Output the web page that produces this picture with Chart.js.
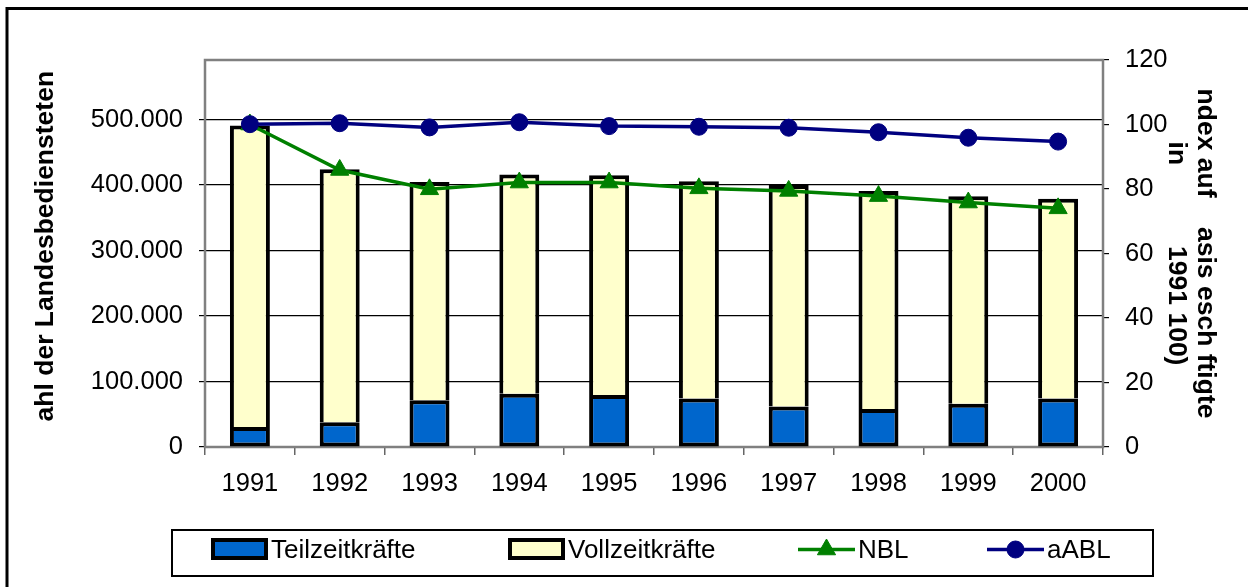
<!DOCTYPE html>
<html>
<head>
<meta charset="utf-8">
<script src="https://cdn.jsdelivr.net/npm/chart.js@4.4.1/dist/chart.umd.min.js"></script>
<style>
  html, body { margin: 0; padding: 0; background: #fff; }
  canvas { display: block; }
</style>
</head>
<body>
<canvas id="c" width="1248" height="587"></canvas>
<script>
// ---- data ----
const years = ['1991','1992','1993','1994','1995','1996','1997','1998','1999','2000'];
const teilzeit = [30500, 37700, 71300, 81500, 79500, 74000, 62000, 58000, 66000, 74000];
const vollzeit = [460500, 386300, 333500, 334500, 335500, 332000, 338000, 333000, 317000, 305000];
const nbl  = [100, 85.9, 79.9, 82.0, 82.0, 80.2, 79.4, 77.8, 75.8, 74.0];
const aabl = [100.1, 100.4, 99.1, 100.7, 99.5, 99.3, 99.0, 97.6, 95.9, 94.7];
const leftTicks = [0, 100000, 200000, 300000, 400000, 500000];
const rightTicks = [0, 20, 40, 60, 80, 100, 120];
const seriesNames = ['Teilzeitkräfte', 'Vollzeitkräfte', 'NBL', 'aABL'];
const leftTitle = '  ahl der Landesbediensteten';
const rightTitle = ['ndex auf    asis esch ftigte', 'in           1991 100)'];

const FAMILY = "'Liberation Sans', Arial, sans-serif";
const tickFont = { family: FAMILY, size: 25.5 };
const titleFont = { family: FAMILY, size: 26.5, weight: 'bold', lineHeight: 1.1 };

function de(v) {
  return String(Math.round(v)).replace(/\B(?=(\d{3})+(?!\d))/g, '.');
}

const framePlugin = {
  id: 'frame',
  beforeDraw(chart) {
    const ctx = chart.ctx;
    ctx.save();
    ctx.fillStyle = '#fff';
    ctx.fillRect(0, 0, chart.width, chart.height);
    ctx.strokeStyle = '#000';
    ctx.lineWidth = 3;
    ctx.strokeRect(7, 8.5, 1400, 700);
    ctx.restore();
  },
  beforeDatasetsDraw(chart) {
    const a = chart.chartArea, ctx = chart.ctx;
    ctx.save();
    ctx.strokeStyle = '#808080';
    ctx.lineWidth = 2.5;
    ctx.strokeRect(a.left, a.top, a.right - a.left, a.bottom - a.top);
    ctx.restore();
  }
};

const legendPlugin = {
  id: 'customLegend',
  afterDraw(chart) {
    const ctx = chart.ctx;
    const ds = chart.data.datasets;
    const cy = 549.5;
    ctx.save();
    ctx.strokeStyle = '#000';
    ctx.lineWidth = 2;
    ctx.strokeRect(172, 530, 981, 46);
    ctx.font = "26px " + FAMILY;
    ctx.textBaseline = 'middle';
    ctx.textAlign = 'left';
    const items = [
      { sx: 211, tx: 271 },
      { sx: 508, tx: 568 },
      { sx: 798, tx: 858 },
      { sx: 987, tx: 1047 }
    ];
    items.forEach((it, i) => {
      const d = ds[i];
      if (d.type === 'bar') {
        ctx.fillStyle = '#000';
        ctx.fillRect(it.sx, 538, 57, 22);
        ctx.fillStyle = d.backgroundColor;
        ctx.fillRect(it.sx + 4, 542, 49, 14);
      } else {
        ctx.strokeStyle = d.borderColor;
        ctx.lineWidth = d.borderWidth;
        ctx.beginPath();
        ctx.moveTo(it.sx, cy);
        ctx.lineTo(it.sx + 57, cy);
        ctx.stroke();
        ctx.fillStyle = d.backgroundColor;
        ctx.strokeStyle = d.borderColor;
        ctx.lineWidth = 1;
        Chart.helpers.drawPoint(ctx, { pointStyle: d.pointStyle, radius: d.pointRadius, rotation: 0, borderWidth: 1 }, it.sx + 28.5, cy);
      }
      ctx.fillStyle = '#000';
      ctx.fillText(d.label, it.tx, cy + 1);
    });
    ctx.restore();
  }
};

new Chart(document.getElementById('c'), {
  data: {
    labels: years,
    datasets: [
      { type: 'bar', label: seriesNames[0], data: teilzeit, yAxisID: 'y', stack: 's',
        backgroundColor: '#0066CC', borderColor: '#000', borderWidth: 4, borderSkipped: false,
        barPercentage: 0.445, categoryPercentage: 1, order: 2 },
      { type: 'bar', label: seriesNames[1], data: vollzeit, yAxisID: 'y', stack: 's',
        backgroundColor: '#FFFFCC', borderColor: '#000', borderWidth: 4, borderSkipped: 'start',
        barPercentage: 0.445, categoryPercentage: 1, order: 2 },
      { type: 'line', label: seriesNames[2], data: nbl, yAxisID: 'y1',
        borderColor: '#008000', backgroundColor: '#008000', borderWidth: 3.5,
        pointStyle: 'triangle', pointRadius: 10.5, pointBorderWidth: 1, tension: 0, order: 1 },
      { type: 'line', label: seriesNames[3], data: aabl, yAxisID: 'y1',
        borderColor: '#000080', backgroundColor: '#000080', borderWidth: 3.5,
        pointStyle: 'circle', pointRadius: 8.5, pointBorderWidth: 1, tension: 0, order: 0 }
    ]
  },
  options: {
    responsive: false,
    animation: false,
    layout: { padding: { top: 60, left: 0, right: 0, bottom: 80 } },
    plugins: { legend: { display: false }, tooltip: { enabled: false } },
    scales: {
      x: {
        stacked: true,
        offset: true,
        grid: { offset: true, drawOnChartArea: false, drawTicks: true, tickLength: 8, color: '#666', lineWidth: 1.5 },
        border: { display: false },
        ticks: { font: tickFont, color: '#000', padding: 14, maxRotation: 0, autoSkip: false },
        afterFit(s) { s.height = 60; }
      },
      y: {
        stacked: true,
        position: 'left',
        min: 0,
        max: 591000,
        afterBuildTicks(s) { s.ticks = leftTicks.map(v => ({ value: v })); },
        ticks: { callback: de, font: tickFont, color: '#000', padding: 16 },
        grid: { color: '#000', lineWidth: 1.2, tickLength: 6, tickColor: '#000' },
        border: { display: false },
        title: { display: true, text: leftTitle, font: titleFont, color: '#000', padding: { top: 31.5, bottom: 0 } },
        afterFit(s) { s.width = 205; }
      },
      y1: {
        position: 'right',
        min: 0,
        max: 120,
        afterBuildTicks(s) { s.ticks = rightTicks.map(v => ({ value: v })); },
        ticks: { font: tickFont, color: '#000', padding: 16 },
        grid: { drawOnChartArea: false, tickLength: 6, color: '#000', lineWidth: 1.2 },
        border: { display: false },
        title: { display: true, text: rightTitle, font: titleFont, color: '#000', padding: { top: 28.4, bottom: 0 } },
        afterFit(s) { s.width = 145; }
      }
    }
  },
  plugins: [framePlugin, legendPlugin]
});
</script>
</body>
</html>
